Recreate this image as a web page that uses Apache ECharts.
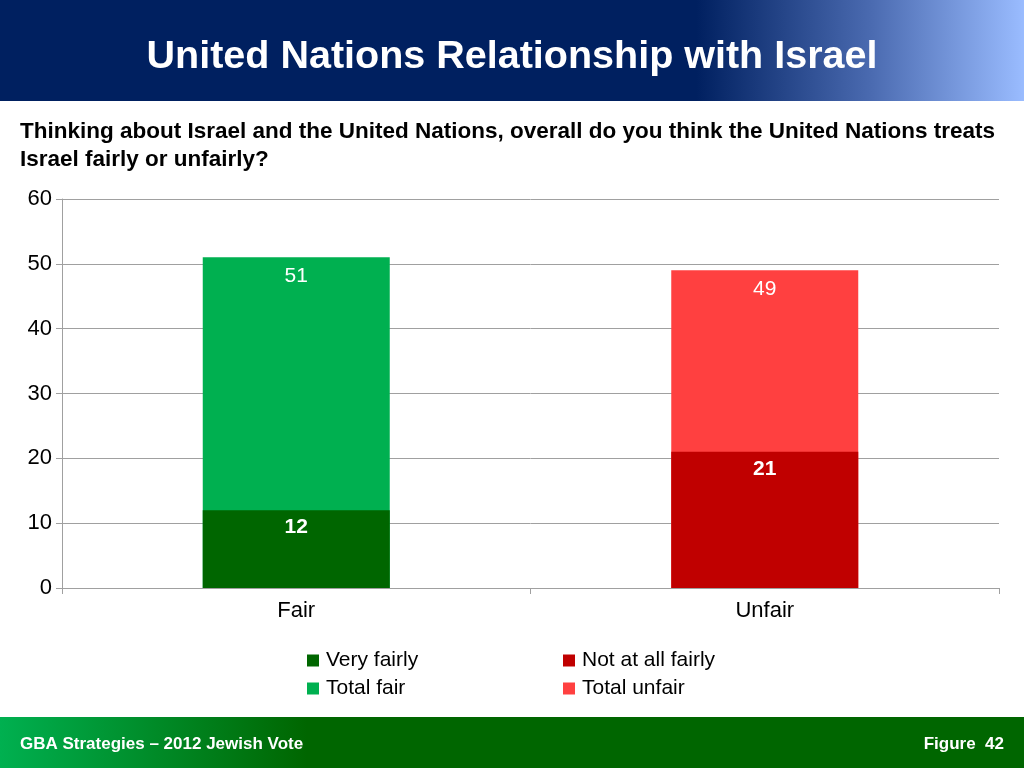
<!DOCTYPE html>
<html><head><meta charset="utf-8">
<script src="https://cdn.jsdelivr.net/npm/echarts@6/dist/echarts.min.js"></script>
<style>html,body{margin:0;padding:0;background:#fff}#c{width:1024px;height:768px}</style>
</head><body><div id="c"></div>
<script>
const categories = ['Fair', 'Unfair'];
const totalFair = [51, null];
const totalUnfair = [null, 49];
const veryFairly = [12, null];
const notAtAllFairly = [null, 21];
const yTicks = [0, 10, 20, 30, 40, 50, 60];

const F = '"Liberation Sans", Arial, sans-serif';
const chart = echarts.init(document.getElementById('c'));
const lblLight = {show: true, position: 'insideTop', distance: 8, color: '#fff', fontSize: 21, fontFamily: F};
const lblBold = {show: true, position: 'insideTop', distance: 7, color: '#fff', fontSize: 21, fontWeight: 'bold', fontFamily: F};
chart.setOption({
  animation: false,
  graphic: [
    {type: 'rect', shape: {x: 0, y: 0, width: 1024, height: 101}, z: 0,
     style: {fill: new echarts.graphic.LinearGradient(0, 0, 1, 0, [
       {offset: 0, color: '#002060'}, {offset: 0.68, color: '#002060'},
       {offset: 0.85, color: '#4a6ab0'}, {offset: 1, color: '#9abcff'}])}},
    {type: 'rect', shape: {x: 0, y: 717, width: 1024, height: 51}, z: 0,
     style: {fill: new echarts.graphic.LinearGradient(0, 0, 1, 0, [
       {offset: 0, color: '#00b050'}, {offset: 0.3, color: '#006600'}, {offset: 1, color: '#006600'}])}},
    {type: 'text', left: 20, top: 736, z: 2,
     style: {text: 'GBA Strategies \u2013 2012 Jewish Vote', fill: '#fff', font: 'bold 17px ' + F}},
    {type: 'text', right: 20, top: 736, z: 2,
     style: {text: 'Figure  42', fill: '#fff', font: 'bold 17px ' + F}},
    {type: 'text', left: 20, top: 118, z: 2,
     style: {text: 'Thinking about Israel and the United Nations, overall do you think the United Nations treats\nIsrael fairly or unfairly?',
       fill: '#000', font: 'bold 22.5px ' + F, lineHeight: 28}}
  ],
  title: {text: 'United Nations Relationship with Israel', left: 'center', top: 32,
    textStyle: {color: '#fff', fontSize: 39.5, fontWeight: 'bold', fontFamily: F}},
  legend: [
    {data: ['Very fairly', 'Total fair'], orient: 'vertical', left: 302, top: 645, itemWidth: 12, itemHeight: 12,
     itemGap: 7, icon: 'rect', textStyle: {fontSize: 21, fontFamily: F, color: '#000', padding: [0, 0, 0, 2]}},
    {data: ['Not at all fairly', 'Total unfair'], orient: 'vertical', left: 558, top: 645, itemWidth: 12, itemHeight: 12,
     itemGap: 7, icon: 'rect', textStyle: {fontSize: 21, fontFamily: F, color: '#000', padding: [0, 0, 0, 2]}}
  ],
  grid: {left: 62, right: 25, top: 199, bottom: 180, containLabel: false},
  xAxis: {type: 'category', data: categories,
    axisLine: {lineStyle: {color: '#a0a0a0'}},
    axisTick: {show: true, alignWithLabel: false, length: 6, lineStyle: {color: '#a0a0a0'}},
    axisLabel: {fontSize: 22, fontFamily: F, color: '#000', margin: 12}},
  yAxis: {type: 'value', min: yTicks[0], max: yTicks[yTicks.length - 1], interval: 10,
    axisLine: {show: true, lineStyle: {color: '#a0a0a0'}},
    axisTick: {show: true, length: 6, lineStyle: {color: '#a0a0a0'}},
    splitLine: {lineStyle: {color: '#a0a0a0'}},
    axisLabel: {fontSize: 22, fontFamily: F, color: '#000', margin: 10}},
  series: [
    {name: 'Total fair', type: 'bar', data: totalFair, barWidth: 187, barGap: '-100%', itemStyle: {color: '#00b050'}, label: lblLight, z: 2},
    {name: 'Total unfair', type: 'bar', data: totalUnfair, barWidth: 187, barGap: '-100%', itemStyle: {color: '#ff4040'}, label: lblLight, z: 2},
    {name: 'Very fairly', type: 'bar', data: veryFairly, barWidth: 187, barGap: '-100%', itemStyle: {color: '#006600'}, label: lblBold, z: 3},
    {name: 'Not at all fairly', type: 'bar', data: notAtAllFairly, barWidth: 187, barGap: '-100%', itemStyle: {color: '#c00000'}, label: lblBold, z: 3}
  ]
});
</script></body></html>
